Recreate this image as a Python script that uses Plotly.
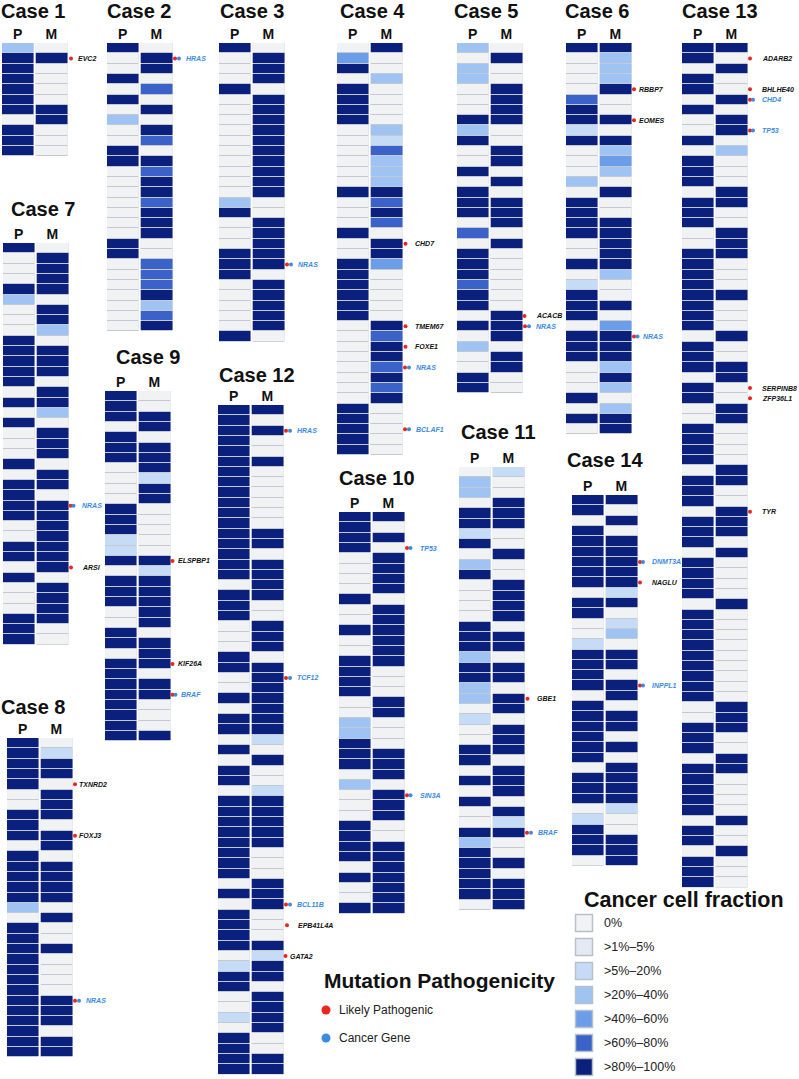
import plotly.graph_objects as go

W, H = 799, 1079
FONT = "Liberation Sans, Arial, Helvetica, sans-serif"

# ---------------- data ----------------
CCF_LABELS = ["0%", ">1%–5%", ">5%–20%", ">20%–40%", ">40%–60%", ">60%–80%", ">80%–100%"]
CCF_COLORS = ["#f0f2f4", "#e3eaf3", "#c6dbf5", "#9fc4f3", "#6b9de9", "#3a62c9", "#0b1f7c"]
PATHO_LABELS = ["Likely Pathogenic", "Cancer Gene"]
PATHO_COLORS = ["#e8251f", "#3b8be0"]
COLUMN_LABELS = ["P", "M"]

case1_P = [3, 6, 6, 6, 6, 6, 6, 0, 6, 6, 6]
case1_M = [0, 6, 0, 0, 0, 0, 6, 6, 0, 0, 0]
case1_genes = [(1, "EVC2", "LP")]

case2_P = [6, 0, 0, 6, 0, 6, 0, 3, 0, 0, 6, 6, 0, 0, 0, 0, 0, 0, 0, 6, 6, 0, 0, 0, 0, 0, 0, 0]
case2_M = [0, 6, 6, 0, 5, 0, 6, 0, 6, 5, 0, 6, 5, 6, 6, 5, 6, 6, 6, 0, 0, 5, 5, 5, 6, 3, 5, 6]
case2_genes = [(1, "HRAS", "CG")]

case3_P = [6, 0, 0, 0, 6, 0, 0, 0, 0, 0, 0, 0, 0, 0, 0, 3, 6, 0, 0, 0, 6, 6, 6, 0, 0, 0, 0, 0, 6]
case3_M = [0, 6, 6, 6, 0, 6, 6, 6, 6, 6, 6, 6, 6, 6, 6, 0, 0, 6, 6, 6, 6, 6, 0, 6, 6, 6, 6, 6, 0]
case3_genes = [(21, "NRAS", "CG")]

case4_P = [0, 4, 6, 0, 6, 6, 6, 6, 0, 0, 0, 0, 0, 0, 6, 0, 0, 0, 6, 0,
           0, 6, 6, 6, 6, 6, 6, 0, 0, 0, 0, 0, 0, 0, 0, 6, 6, 6, 6, 6]
case4_M = [6, 0, 0, 3, 0, 0, 0, 0, 3, 2, 5, 3, 3, 3, 6, 5, 6, 5, 0, 6,
           6, 4, 0, 0, 0, 0, 0, 6, 5, 6, 6, 5, 6, 5, 6, 0, 0, 0, 0, 0]
case4_genes = [(19, "CHD7", "LP"), (27, "TMEM67", "LP"), (29, "FOXE1", "LP"),
               (31, "NRAS", "CG"), (37, "BCLAF1", "CG")]

case5_P = [3, 0, 3, 3, 0, 0, 0, 6, 3, 6, 0, 0, 6, 0, 6, 6, 6, 0, 5, 0,
           6, 6, 6, 5, 6, 6, 0, 6, 0, 3, 0, 0, 6, 6]
case5_M = [0, 6, 0, 0, 6, 6, 6, 6, 0, 0, 6, 6, 0, 6, 0, 6, 6, 6, 0, 6,
           0, 0, 0, 0, 0, 0, 6, 6, 6, 0, 6, 6, 0, 0]
case5_genes = [(26, "ACACB", "LP"), (27, "NRAS", "CG")]

case6_P = [6, 0, 0, 0, 0, 5, 6, 6, 2, 6, 0, 0, 0, 3, 0, 6, 6, 6, 6, 0,
           0, 6, 0, 2, 6, 6, 6, 0, 6, 6, 6, 0, 0, 0, 6, 0, 6, 0]
case6_M = [6, 3, 3, 3, 6, 0, 0, 6, 0, 6, 3, 4, 3, 0, 6, 0, 0, 6, 6, 6,
           6, 6, 3, 0, 0, 6, 0, 4, 6, 6, 6, 3, 6, 3, 0, 3, 6, 6]
case6_genes = [(4, "RBBP7", "LP"), (7, "EOMES", "LP"), (28, "NRAS", "CG")]

case7_P = [6, 0, 0, 0, 6, 3, 0, 0, 0, 6, 6, 6, 6, 6, 0, 6, 0, 6, 0, 0,
           0, 6, 0, 6, 6, 6, 6, 0, 0, 6, 6, 0, 6, 0, 0, 0, 6, 6, 6]
case7_M = [0, 6, 6, 6, 6, 0, 6, 6, 3, 0, 6, 6, 6, 0, 6, 6, 3, 0, 6, 6,
           6, 0, 6, 6, 0, 6, 6, 6, 6, 6, 6, 6, 0, 6, 6, 6, 6, 0, 0]
case7_genes = [(25, "NRAS", "CG"), (31, "ARSI", "LP")]

case8_P = [6, 6, 6, 6, 6, 0, 0, 6, 6, 6, 0, 6, 6, 6, 6, 6, 3, 0, 6, 6,
           6, 6, 6, 6, 6, 6, 6, 6, 6, 6, 6]
case8_M = [0, 2, 6, 6, 0, 6, 6, 6, 0, 6, 6, 0, 6, 6, 6, 6, 0, 6, 0, 0,
           6, 0, 0, 0, 0, 6, 6, 6, 0, 6, 6]
case8_genes = [(4, "TXNRD2", "LP"), (9, "FOXJ3", "LP"), (25, "NRAS", "CG")]

case9_P = [6, 6, 6, 0, 6, 6, 6, 0, 0, 0, 0, 6, 6, 6, 2, 2, 6, 0, 6, 6,
           6, 0, 0, 6, 6, 0, 6, 6, 6, 6, 6, 6, 6, 6]
case9_M = [0, 0, 6, 6, 0, 6, 6, 6, 2, 6, 6, 0, 0, 0, 0, 0, 6, 2, 6, 6,
           6, 6, 6, 0, 6, 6, 6, 0, 6, 6, 0, 0, 0, 6]
case9_genes = [(16, "ELSPBP1", "LP"), (26, "KIF26A", "LP"), (29, "BRAF", "CG")]

case10_P = [6, 6, 6, 6, 0, 0, 0, 0, 6, 0, 0, 6, 0, 0, 6, 6, 6, 6, 0, 0,
            3, 3, 6, 6, 6, 0, 3, 0, 0, 0, 6, 6, 6, 6, 0, 6, 0, 0, 6]
case10_M = [6, 0, 6, 0, 6, 6, 6, 6, 0, 6, 6, 6, 6, 6, 6, 0, 0, 0, 6, 6,
            0, 0, 0, 6, 6, 6, 0, 6, 6, 6, 0, 0, 6, 6, 6, 6, 6, 6, 6]
case10_genes = [(3, "TP53", "CG"), (27, "SIN3A", "CG")]

case11_P = [0, 3, 3, 0, 6, 6, 2, 6, 0, 3, 6, 0, 0, 0, 0, 6, 6, 6, 3, 6,
            6, 3, 3, 0, 2, 0, 0, 6, 6, 0, 6, 0, 6, 0, 0, 6, 3, 6, 6, 6,
            6, 6, 0]
case11_M = [2, 0, 0, 6, 6, 6, 0, 0, 6, 0, 0, 6, 6, 6, 6, 0, 6, 6, 0, 6,
            6, 0, 6, 6, 0, 6, 6, 6, 0, 6, 6, 6, 0, 6, 2, 6, 0, 0, 6, 0,
            6, 6, 6]
case11_genes = [(22, "GBE1", "LP"), (35, "BRAF", "CG")]

case12_P = [6, 6, 6, 6, 6, 6, 6, 6, 6, 6, 6, 6, 6, 6, 6, 6, 6,
            0, 6, 6, 6, 0, 0, 0, 6, 6, 0, 0, 6, 0, 6, 6, 0, 6, 0, 6, 6, 0,
            6, 6, 6, 6, 6, 6, 6, 6,
            0, 6, 0, 6, 6, 6, 6, 0, 2, 6, 6, 0, 0, 2, 0, 6, 6, 6, 6]
case12_M = [6, 0, 6, 0, 0, 6, 0, 0, 0, 0, 0, 0, 6, 6, 0, 6, 6, 6, 6, 0,
            0, 6, 6, 6, 0, 6, 6, 6, 6, 6, 6, 6, 2, 0, 6, 0, 0, 2, 6, 6,
            6, 6, 6, 0, 0, 0, 6, 6, 6, 0, 0, 0, 6, 2, 6, 6, 0, 6, 6, 6,
            6, 0, 0, 6, 6]
case12_genes = [(2, "HRAS", "CG"), (26, "TCF12", "CG"), (48, "BCL11B", "CG"),
                (50, "EPB41L4A", "LP"), (53, "GATA2", "LP")]

case13_P = [6, 6, 0, 6, 6, 0, 6, 0, 0, 6, 0, 6, 6, 6, 0, 6, 6, 6, 0, 0,
            6, 6, 6, 6, 6, 6, 6, 6, 0, 6, 6, 6, 0, 6, 6, 0, 0, 6, 6, 6,
            6, 0, 6, 6, 6, 0, 6, 6, 6, 0, 6, 6, 6, 6, 0, 6, 6, 6, 6, 6,
            6, 6, 6, 6, 0, 0, 6, 6, 6, 0, 6, 6, 6, 6, 6, 0, 6, 6, 0, 6,
            6, 6]
case13_M = [6, 0, 6, 0, 0, 6, 0, 6, 6, 0, 3, 0, 0, 0, 6, 6, 0, 0, 6, 6,
            6, 0, 0, 0, 6, 0, 0, 0, 6, 0, 0, 6, 6, 0, 0, 6, 6, 0, 0, 0,
            0, 6, 6, 0, 0, 6, 6, 6, 0, 6, 0, 0, 0, 0, 6, 0, 0, 0, 0, 0,
            0, 0, 0, 0, 6, 6, 6, 0, 0, 6, 6, 0, 0, 0, 0, 6, 0, 0, 6, 0,
            0, 0]
case13_genes = [(1, "ADARB2", "LP"), (4, "BHLHE40", "LP"), (5, "CHD4", "CG"),
                (8, "TP53", "CG"), (33, "SERPINB8", "LP"), (34, "ZFP36L1", "LP"),
                (45, "TYR", "LP")]

case14_P = [6, 6, 0, 6, 6, 6, 6, 6, 6, 0, 6, 6, 0, 0, 2, 6, 6, 6, 6, 0,
            6, 6, 6, 6, 6, 6, 0, 6, 6, 6, 0, 2, 6, 6, 6, 0]
case14_M = [6, 0, 6, 0, 6, 6, 6, 6, 6, 2, 6, 0, 2, 3, 0, 6, 6, 0, 6, 6,
            0, 6, 6, 0, 6, 0, 6, 6, 6, 6, 2, 0, 0, 6, 6, 6]
case14_genes = [(6, "DNMT3A", "CG"), (8, "NAGLU", "LP"), (18, "INPPL1", "CG")]

CASES = {
    1: (case1_P, case1_M, case1_genes), 2: (case2_P, case2_M, case2_genes),
    3: (case3_P, case3_M, case3_genes), 4: (case4_P, case4_M, case4_genes),
    5: (case5_P, case5_M, case5_genes), 6: (case6_P, case6_M, case6_genes),
    7: (case7_P, case7_M, case7_genes), 8: (case8_P, case8_M, case8_genes),
    9: (case9_P, case9_M, case9_genes), 10: (case10_P, case10_M, case10_genes),
    11: (case11_P, case11_M, case11_genes), 12: (case12_P, case12_M, case12_genes),
    13: (case13_P, case13_M, case13_genes), 14: (case14_P, case14_M, case14_genes),
}

# ---------------- layout (pixels) ----------------
ROW = 10.3
COLW = 31.5
GAP = 2.0
EXT = 20.0   # room right of the M column for markers
# P column left edge, grid top
CASE_POS = {1: (2, 43), 2: (107, 43), 3: (219, 43), 4: (337, 43), 5: (457, 43),
            6: (566, 43), 13: (682, 43), 7: (3, 243), 8: (7, 738), 9: (105, 391),
            12: (218, 405), 10: (339, 512), 11: (459, 467), 14: (572, 495)}
TITLE_POS = {1: (33, 11), 2: (139, 11), 3: (252, 11), 4: (372, 11), 5: (486, 11),
             6: (597, 11), 13: (720, 11), 7: (43, 209), 8: (33, 707), 9: (148, 357),
             12: (257, 375), 10: (377, 478), 11: (498, 432), 14: (605, 460)}
# offsets (px from right edge of M column): red dot, blue dot, text
DEFAULT_OFF = {"LP": (3.5, None, 11.0), "CG": (3.0, 7.0, 11.5)}
OFFSETS = {
    (1, "EVC2"): (4, None, 9),
    (4, "CHD7"): (3.5, None, 10.5), (4, "TMEM67"): (3.5, None, 10.5), (4, "FOXE1"): (3.5, None, 10.5),
    (5, "ACACB"): (2.5, None, 12),
    (6, "RBBP7"): (3, None, 5.5), (6, "EOMES"): (3, None, 5.5), (6, "NRAS"): (3, 6.5, 9.5),
    (8, "TXNRD2"): (3, None, 4.5), (8, "FOXJ3"): (3, None, 4.5),
    (9, "ELSPBP1"): (2.5, None, 5.5), (9, "KIF26A"): (2.5, None, 5.5), (9, "BRAF"): (2.5, 5.5, 9),
    (12, "GATA2"): (2.5, None, 5), (12, "EPB41L4A"): (4, None, 13),
    (13, "ADARB2"): (3, None, 12.5), (13, "BHLHE40"): (3, None, 12.5), (13, "CHD4"): (3, 6, 12.5),
    (13, "TP53"): (3, 6, 12.5), (13, "SERPINB8"): (3, None, 12.5), (13, "ZFP36L1"): (3, None, 12.5),
    (13, "TYR"): (3, None, 12.5),
    (14, "DNMT3A"): (3, 6, 13), (14, "NAGLU"): (3, None, 13), (14, "INPPL1"): (3, 6, 13),
    (10, "TP53"): (3, 6.5, 13.5), (10, "SIN3A"): (3, 6.5, 13.5),
    (7, "ARSI"): (3, None, 12), (7, "NRAS"): (2.5, 5.5, 12),
}
SEP = "#c4c9cf"


def px(x):
    return x / W


def py(y):
    return 1 - y / H


def axname(prefix, i):
    return prefix if i == 1 else f"{prefix}{i}"


colorscale = []
for i, c in enumerate(CCF_COLORS):
    colorscale.append([i / 7, c])
    colorscale.append([(i + 1) / 7, c])

fig = go.Figure()
lay = dict(width=W, height=H, margin=dict(l=0, r=0, t=0, b=0),
           paper_bgcolor="white", plot_bgcolor="rgba(0,0,0,0)", showlegend=False,
           hovermode=False)
annotations = []
xi = 0
yi = 0

for cid in [1, 2, 3, 4, 5, 6, 13, 7, 8, 9, 12, 10, 11, 14]:
    P, M, genes = CASES[cid]
    n = len(P)
    left, top = CASE_POS[cid]
    yi += 1
    yk = yi
    lay[axname("yaxis", yk)] = dict(domain=[py(top + n * ROW), py(top)],
                                    range=[n - 0.5, -0.5], visible=False,
                                    anchor=axname("x", xi + 1))
    col_axes = []
    for j, (vals, lab) in enumerate(zip([P, M], COLUMN_LABELS)):
        xi += 1
        x0 = left + j * (COLW + GAP)
        extra = EXT if j == 1 else 0.0
        lay[axname("xaxis", xi)] = dict(
            domain=[px(x0), px(x0 + COLW + extra)], range=[-0.5, 0.5 + extra / COLW],
            anchor=axname("y", yk), side="top", tickvals=[0], ticktext=[lab], ticks="",
            showgrid=False, zeroline=False, showline=False,
            tickfont=dict(family=FONT, size=14, color="#111", weight="bold"))
        # separator underlay (shows through the row gaps)
        fig.add_trace(go.Heatmap(
            z=[[0] for _ in vals], x=[0], y=list(range(n)),
            xaxis=axname("x", xi), yaxis=axname("y", yk),
            colorscale=[[0, SEP], [1, SEP]], showscale=False, hoverinfo="skip"))
        fig.add_trace(go.Heatmap(
            z=[[v] for v in vals], x=[0], y=list(range(n)),
            xaxis=axname("x", xi), yaxis=axname("y", yk),
            colorscale=colorscale, zmin=-0.5, zmax=6.5, showscale=False,
            xgap=0, ygap=1, hoverinfo="skip"))
        col_axes.append(xi)
    xm = col_axes[1]
    rx, ry, bx, by = [], [], [], []
    for row, gene, kind in genes:
        r_off, b_off, t_off = OFFSETS.get((cid, gene), DEFAULT_OFF[kind])
        if kind == "CG" and b_off is None:
            b_off = r_off + 4
        rx.append(0.5 + r_off / COLW)
        ry.append(row)
        if kind == "CG":
            bx.append(0.5 + b_off / COLW)
            by.append(row)
        annotations.append(dict(
            x=0.5 + t_off / COLW, y=row, xref=axname("x", xm), yref=axname("y", yk),
            text=gene, showarrow=False, xanchor="left", yanchor="middle",
            font=dict(family=FONT, size=7, color=PATHO_COLORS[1] if kind == "CG" else "#111",
                      weight="bold", style="italic")))
    fig.add_trace(go.Scatter(x=rx, y=ry, mode="markers", cliponaxis=False,
                             xaxis=axname("x", xm), yaxis=axname("y", yk),
                             marker=dict(size=4, color=PATHO_COLORS[0]), hoverinfo="skip"))
    if bx:
        fig.add_trace(go.Scatter(x=bx, y=by, mode="markers", cliponaxis=False,
                                 xaxis=axname("x", xm), yaxis=axname("y", yk),
                                 marker=dict(size=4, color=PATHO_COLORS[1]), hoverinfo="skip"))
    tx, ty = TITLE_POS[cid]
    annotations.append(dict(x=px(tx), y=py(ty), xref="paper", yref="paper",
                            text=f"Case {cid}", showarrow=False, xanchor="center",
                            yanchor="middle",
                            font=dict(family=FONT, size=20, color="#111", weight="bold")))

# ---------------- CCF legend ----------------
xi += 1
yi += 1
lay[axname("xaxis", xi)] = dict(domain=[px(575), px(795)], range=[-9, 211], visible=False,
                                anchor=axname("y", yi))
lay[axname("yaxis", yi)] = dict(domain=[py(911 + 7 * 24), py(911)], range=[6.5, -0.5],
                                visible=False, anchor=axname("x", xi))
fig.add_trace(go.Scatter(
    x=[0] * len(CCF_LABELS), y=list(range(len(CCF_LABELS))), mode="markers",
    xaxis=axname("x", xi), yaxis=axname("y", yi), cliponaxis=False,
    marker=dict(symbol="square", size=17, color=CCF_COLORS,
                line=dict(width=1.5, color="#b7c0ca")), hoverinfo="skip"))
for i, lab in enumerate(CCF_LABELS):
    annotations.append(dict(x=18, y=i, xref=axname("x", xi), yref=axname("y", yi),
                            text=lab, showarrow=False, xanchor="left", yanchor="middle",
                            font=dict(family=FONT, size=12.5, color="#222")))
annotations.append(dict(x=px(684), y=py(900), xref="paper", yref="paper",
                        text="Cancer cell fraction", showarrow=False, xanchor="center",
                        yanchor="middle",
                        font=dict(family=FONT, size=21.5, color="#111", weight="bold")))

# ---------------- Pathogenicity legend ----------------
xi += 1
yi += 1
lay[axname("xaxis", xi)] = dict(domain=[px(318), px(560)], range=[-8, 234], visible=False,
                                anchor=axname("y", yi))
lay[axname("yaxis", yi)] = dict(domain=[py(1052), py(996)], range=[1.5, -0.5],
                                visible=False, anchor=axname("x", xi))
fig.add_trace(go.Scatter(
    x=[0, 0], y=[0, 1], mode="markers", xaxis=axname("x", xi), yaxis=axname("y", yi),
    cliponaxis=False, marker=dict(size=9, color=PATHO_COLORS), hoverinfo="skip"))
for i, lab in enumerate(PATHO_LABELS):
    annotations.append(dict(x=11, y=i, xref=axname("x", xi), yref=axname("y", yi),
                            text=lab, showarrow=False, xanchor="left", yanchor="middle",
                            font=dict(family=FONT, size=12, color="#222")))
annotations.append(dict(x=px(322), y=py(980), xref="paper", yref="paper",
                        text="Mutation Pathogenicity", showarrow=False, xanchor="left",
                        yanchor="middle",
                        font=dict(family=FONT, size=21, color="#111", weight="bold")))

lay["annotations"] = annotations
fig.update_layout(**lay)
fig.write_html("out.html", config={"displayModeBar": False, "staticPlot": True},
               post_script="document.body.style.margin='0px';")
